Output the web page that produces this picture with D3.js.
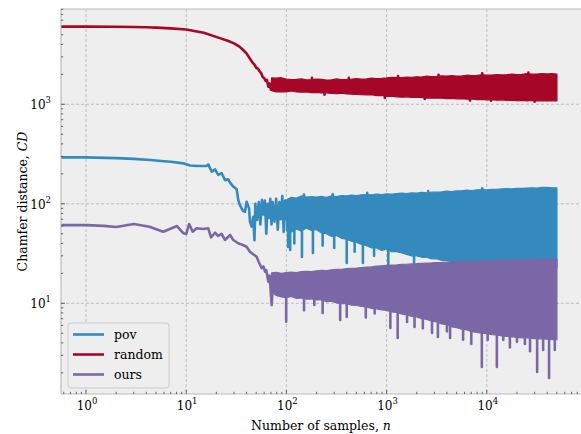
<!DOCTYPE html>
<html>
<head>
<meta charset="utf-8">
<script src="https://cdn.jsdelivr.net/npm/d3@7"></script>
<style>
body { margin: 0; background: #fff; }
</style>
</head>
<body>
<div id="chart"></div>
<script>
// ---- data ----
let seriesNames = ["pov", "random", "ours"]
let seriesColors = ["#348ABD", "#A60628", "#7A68A6"]

let xTickValues = [1, 10, 100, 1000, 10000]
let xTickExp = ["0", "1", "2", "3", "4"]
let yTickValues = [10, 100, 1000]
let yTickExp = ["1", "2", "3"]

// [n, CD] for the part where single samples can be told apart
let povLine = [[0,293],[1,293],[2,288],[3,283],[4.4,276],[6,268],[7,265],[9.4,255],[10.9,243],[13,240],[16,240],[16.6,249],
  [18,210],[19.4,222],[20.9,195],[22.6,203],[24.4,173],[26.3,176],[27.4,163],[29.5,149],[31.9,140],[33.1,109],[34.4,97],
  [36.6,86],[38.6,83],[40.1,105],[42.4,90],[43.3,66],[45,59],[46.7,74],[48,43],[49,100],[51,69],[53,104],[55,62],[57,110],
  [59,78],[61,108],[63,50],[65,100],[67,72],[69,112],[71,62],[73,104],[76,66],[79,112],[82,55],[85,104],[88,70],[91,120],
  [94,52],[97,108],[100,68]]
let randomLine = [[0,6030],[1,6030],[2,6010],[3,5990],[4,5950],[5,5900],[7,5800],[10,5650],[15,5240],[22,4600],[26,4350],
  [30,4100],[34,3800],[37,3510],[40,3250],[43,2900],[46,2620],[48,2500],[50,2330],[52,2280],[54,2150],[56,2060],[58,1880],
  [60,1830],[62,1720],[64,1760],[66,1500],[68,1620],[70,1400],[72,1560]]
let oursLine = [[0,61],[1,61],[1.5,60],[2,58.5],[3,62.7],[4.3,58.9],[5.9,52.4],[8.1,59.8],[9.4,50.5],[10,49.7],[10.7,62.7],
  [11.6,52.5],[12.7,56.7],[14.8,55.8],[16.6,56.7],[17.7,46],[19.4,51.2],[20.9,47.5],[22.5,50],[24.4,43.3],[27.4,48.6],
  [29.5,43.3],[33,40.1],[36.8,38.5],[40.1,37],[43.3,33],[47,31],[50.5,29.4],[53,26],[56.7,22.5],[59,23.5],[61.2,20.8],
  [63,21.5],[66.1,16.5],[68,19],[71.3,9.6],[74,18.5]]

// sample positions of the band envelopes, n
let bandN = [71,79,89,100,112,126,141,158,178,200,224,251,282,316,355,398,447,501,562,631,708,794,891,1000,1122,1259,
  1413,1585,1778,1995,2239,2512,2818,3162,3548,3981,4467,5012,5623,6310,7079,7943,8913,10000,11220,12589,14125,15849,
  17783,19953,22387,25119,28184,31623,35481,39811,44668,50119]

// envelope of the dense noisy part (low / high CD at each bandN)
let randomHi = [1840,1830,1850,1790,1770,1780,1800,1760,1770,1790,1780,1750,1760,1800,1770,1775,1790,1810,1790,1800,1830,
  1810,1820,1840,1870,1850,1860,1880,1870,1890,1880,1920,1900,1910,1930,1920,1940,1925,1930,1960,1940,1950,1980,1960,
  1970,1990,1975,1985,2010,1990,2000,2030,2010,2015,2040,2020,2030,2010]
let randomLo = [1370,1330,1340,1335,1360,1330,1325,1330,1310,1315,1300,1305,1290,1280,1295,1270,1265,1260,1250,1245,1250,
  1220,1225,1200,1205,1190,1180,1190,1175,1170,1175,1155,1160,1150,1155,1140,1145,1135,1140,1125,1130,1115,1120,1110,
  1115,1100,1110,1095,1100,1090,1095,1085,1095,1080,1090,1080,1085,1085]
// pov band starts at n = 100 (4th bandN)
let povHi = [null,null,null,110,116,114,120,117,118,117,119,116,120,118,121,120,122,121,123,124,123,125,124,126,125,127,
  128,127,129,128,130,129,131,131,132,134,133,135,135,137,136,138,139,138,140,140,141,142,141,143,143,144,145,144,146,
  146,145,145]
let povLo = [null,null,null,54,52,56,53,57,54,55,51,50,47,48,45,44,42,41,39,38,36,36,34,35,33,33,32,31,30,30,29,29,28,28,
  27,27,26,25.5,25,24,23,22.6,22.6,22.6,22.6,22.6,22.6,22.6,22.6,22.6,22.6,22.6,22.6,22.6,22.6,22.6,22.6,22.6]
let oursHi = [20.2,20.5,20,20.3,20.6,20.4,20.8,21,20.8,21.2,21.4,21.3,21.7,21.9,22,22.3,22.5,22.6,22.9,23.1,23.3,23.6,23.8,
  24,24.2,24.3,24.6,24.7,24.9,25,25.2,25.4,25.5,25.7,25.8,26,26,26.2,26.3,26.4,26.5,26.6,26.7,26.8,26.9,27,27.1,27.1,
  27.2,27.3,27.3,27.4,27.5,27.5,27.6,27.6,27.7,27.7]
let oursLo = [13,12,11.6,11.4,11.7,11.2,11.3,11,11.1,10.8,10.9,10.4,10.5,10.1,9.9,9.9,9.6,9.5,9.3,9.2,8.9,8.8,8.6,8.5,8.2,
  8.1,7.8,7.7,7.4,7.3,7,6.9,6.6,6.5,6.2,6.1,5.8,5.7,5.5,5.4,5.2,5.1,5,4.95,4.85,4.8,4.7,4.65,4.6,4.55,4.5,4.5,4.45,4.4,
  4.4,4.35,4.3,4.3]

// [n, low, high] single samples sticking out of the band
let povSpikes = [[104,36.8,70],[109,34.3,70],[143,29.2,70],[184,32,70],[400,25.4,60],[580,25.4,60],[1040,23.3,50],
  [1880,25.4,50],[120,40,80],[230,38,70],[300,36,70],[480,33,60],[750,30,60],[150,98,124],[290,98,125],[640,90,129],
  [2600,90,134],[9000,90,143]]
let randomSpikes = [[960,1160,1400],[2400,1130,1400],[6800,1090,1400],[11000,1085,1400],[30000,1060,1400],[240,1250,1500],
  [180,1500,1850],[420,1500,1850],[1300,1500,1920],[3300,1500,1980],[9000,1500,2050],[26000,1500,2080]]
let oursSpikes = [[99.5,6.53,15],[344,6.8,12],[400,7.28,12],[1090,5.65,12],[1290,4.48,12],[1900,5.78,12],[2840,5.03,10],
  [3250,4.58,10],[4300,4.48,10],[8920,2.29,8],[10200,4.28,8],[12600,2.29,8],[14600,4.28,8],[31800,2.04,8],
  [36500,3.4,8],[41800,1.78,8],[47700,3.4,8],[150,8.5,12],[230,8,12],[620,7.2,12],[2300,5.6,10],[5800,4.3,10],
  [7000,3.9,10],[17000,3.6,8],[24000,3.9,8],[27000,3.3,8],[190,9.6,12],[760,7.9,12],[1600,6.5,10],[4000,5.2,10],
  [20000,4.1,8]]

let lines = [povLine, randomLine, oursLine]
let bandsLo = [povLo, randomLo, oursLo]
let bandsHi = [povHi, randomHi, oursHi]
let spikes = [povSpikes, randomSpikes, oursSpikes]

// ---- layout ----
let width = 581
let height = 434
let plotLeft = 61, plotTop = 9, plotRight = 581, plotBottom = 394
let serif = "'DejaVu Serif', serif"

let svg = d3.select("#chart").append("svg")
  .attr("width", width)
  .attr("height", height)
  .attr("font-family", serif)

let xScale = d3.scaleLog().domain([0.5632, 87100]).range([plotLeft, plotRight]).clamp(true)
let yScale = d3.scaleLog().domain([1.226, 9074]).range([plotBottom, plotTop])

svg.append("rect")
  .attr("x", plotLeft).attr("y", plotTop)
  .attr("width", plotRight - plotLeft).attr("height", plotBottom - plotTop)
  .attr("fill", "#eeeeee")

svg.append("clipPath").attr("id", "plotClip")
  .append("rect")
  .attr("x", plotLeft).attr("y", plotTop)
  .attr("width", plotRight - plotLeft).attr("height", plotBottom - plotTop)

// grid
let grid = svg.append("g").attr("stroke", "#b2b2b2").attr("stroke-width", 0.8).attr("stroke-dasharray", "3,2")
grid.selectAll("line.vx").data(xTickValues).enter().append("line")
  .attr("x1", d => xScale(d)).attr("x2", d => xScale(d))
  .attr("y1", plotTop).attr("y2", plotBottom)
grid.selectAll("line.hy").data(yTickValues).enter().append("line")
  .attr("x1", plotLeft).attr("x2", plotRight)
  .attr("y1", d => yScale(d)).attr("y2", d => yScale(d))

// series
let plot = svg.append("g").attr("clip-path", "url(#plotClip)")
let line = d3.line().x(d => xScale(d[0])).y(d => yScale(d[1]))
let area = d3.area()
  .defined(d => d.hi != null)
  .x(d => xScale(d.n)).y0(d => yScale(d.lo)).y1(d => yScale(d.hi))

seriesNames.forEach(function(name, i){
  let g = plot.append("g").attr("class", "series " + name)
  let band = bandN.map((n, j) => ({n: n, lo: bandsLo[i][j], hi: bandsHi[i][j]}))
  g.append("path")
    .attr("d", line(lines[i]))
    .attr("fill", "none")
    .attr("stroke", seriesColors[i])
    .attr("stroke-width", 2.6)
    .attr("stroke-linejoin", "round")
  g.append("path")
    .attr("d", area(band))
    .attr("fill", seriesColors[i])
    .attr("stroke", seriesColors[i])
    .attr("stroke-width", 1.2)
    .attr("stroke-linejoin", "round")
  g.selectAll("line").data(spikes[i]).enter().append("line")
    .attr("x1", d => xScale(d[0])).attr("x2", d => xScale(d[0]))
    .attr("y1", d => yScale(d[2])).attr("y2", d => yScale(d[1]))
    .attr("stroke", seriesColors[i])
    .attr("stroke-width", 2.6)
    .attr("stroke-linecap", "round")
})

// spines
let spines = svg.append("g").attr("stroke", "#bcbcbc").attr("stroke-width", 1.2).attr("fill", "none")
spines.append("path").attr("d", `M${plotLeft},${plotBottom}V${plotTop}H${plotRight}`)
spines.append("path").attr("d", `M${plotLeft},${plotBottom}H${plotRight}`)

// ticks (pointing inward)
let xAll = xScale.ticks()
let yAll = yScale.ticks()
let ticks = svg.append("g").attr("stroke", "#444").attr("stroke-width", 0.8)
ticks.selectAll("line.tx").data(xAll).enter().append("line")
  .attr("x1", d => xScale(d)).attr("x2", d => xScale(d))
  .attr("y1", plotBottom).attr("y2", d => plotBottom - (xTickValues.includes(d) ? 4 : 2.2))
ticks.selectAll("line.ty").data(yAll).enter().append("line")
  .attr("y1", d => yScale(d)).attr("y2", d => yScale(d))
  .attr("x1", plotLeft).attr("x2", d => plotLeft + (yTickValues.includes(d) ? 4 : 2.2))

// tick labels
xTickValues.forEach(function(v, i){
  let t = svg.append("text")
    .attr("x", xScale(v) + 1)
    .attr("y", 410)
    .attr("text-anchor", "middle")
    .attr("font-size", 12)
  t.append("tspan").text("10")
  t.append("tspan").attr("dy", -6).attr("font-size", 8.5).text(xTickExp[i])
})
yTickValues.forEach(function(v, i){
  let t = svg.append("text")
    .attr("x", 51)
    .attr("y", yScale(v) + 5)
    .attr("text-anchor", "end")
    .attr("font-size", 12)
  t.append("tspan").text("10")
  t.append("tspan").attr("dy", -6).attr("font-size", 8.5).text(yTickExp[i])
})

// axis titles
let xTitle = svg.append("text")
  .attr("x", (plotLeft + plotRight) / 2)
  .attr("y", 430)
  .attr("text-anchor", "middle")
  .attr("font-size", 12.5)
xTitle.append("tspan").text("Number of samples, ")
xTitle.append("tspan").attr("font-style", "italic").text("n")

let yTitle = svg.append("text")
  .attr("transform", `translate(27, ${(plotTop + plotBottom) / 2}) rotate(-90)`)
  .attr("text-anchor", "middle")
  .attr("font-size", 12.5)
yTitle.append("tspan").text("Chamfer distance, ")
yTitle.append("tspan").attr("font-style", "italic").text("CD")

// legend
let legend = svg.append("g").attr("class", "legend")
legend.append("rect")
  .attr("x", 68).attr("y", 323)
  .attr("width", 101).attr("height", 65)
  .attr("rx", 3)
  .attr("fill", "#eeeeee")
  .attr("stroke", "#cccccc")
  .attr("stroke-width", 1)
seriesNames.forEach(function(name, i){
  let y = 334.5 + i * 20
  legend.append("line")
    .attr("x1", 73).attr("x2", 104)
    .attr("y1", y).attr("y2", y)
    .attr("stroke", seriesColors[i])
    .attr("stroke-width", 2.6)
  legend.append("text")
    .attr("x", 114)
    .attr("y", y + 4.5)
    .attr("font-size", 12.5)
    .text(name)
})
</script>
</body>
</html>
